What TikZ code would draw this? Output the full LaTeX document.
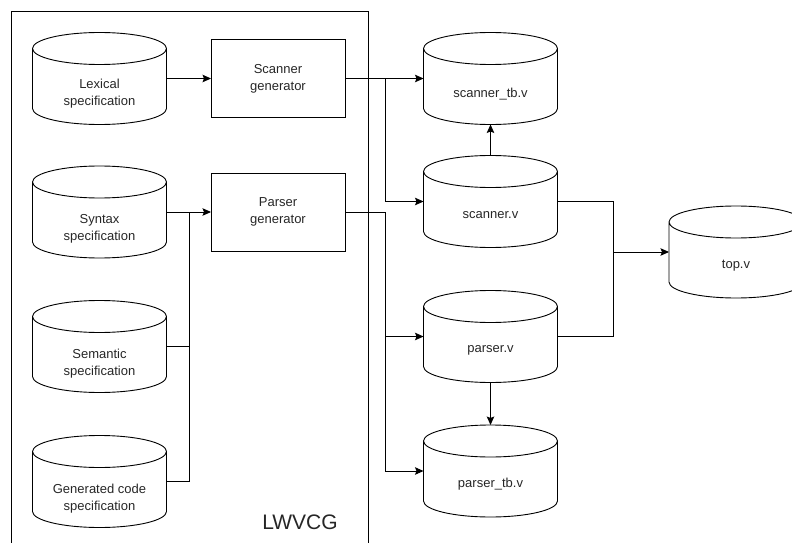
\documentclass[tikz,border=0pt]{standalone}
\usepackage{fontspec}
\setmainfont{Liberation Sans}
\usetikzlibrary{arrows.meta}

% outline of a storage cylinder drawn over a rectangular node
\newcommand\cylshape[1]{%
  \draw ([yshift=-16pt]#1.north west) -- ([yshift=16pt]#1.south west)
    arc[start angle=180,end angle=360,x radius=67pt,y radius=16pt]
    -- ([yshift=-16pt]#1.north east)
    arc[start angle=0,end angle=180,x radius=67pt,y radius=16pt] -- cycle
    ([yshift=-16pt]#1.north west)
    arc[start angle=180,end angle=360,x radius=67pt,y radius=16pt];}

\begin{document}
\begin{tikzpicture}[x=1pt,y=1pt,
  line width=0.9pt,
  arr/.style={-{Stealth[length=8.5pt,width=7.5pt,inset=1.5pt]}},
  lbl/.style={font=\fontsize{13}{17}\selectfont, align=center, text=black!85},
  store/.style={minimum width=134pt, minimum height=92pt, inner sep=0pt, outer sep=0pt},
  genbox/.style={draw, minimum width=134pt, minimum height=78pt, inner sep=0pt, outer sep=0pt, lbl},
]
\useasboundingbox (0,0) rectangle (792,542);
\clip (0,0) rectangle (792,542);

% container
\node[draw, anchor=north west, minimum width=357.5pt, minimum height=560pt, inner sep=0pt] (frame) at (10.5,530.5) {};
\node[font=\fontsize{21}{25}\selectfont, text=black!85] (frametitle) at (300,20) {LWVCG};

% stores
\node[store] (lex) at (99.5,463.5) {};
\node[store] (syn) at (99.5,330) {};
\node[store] (sem) at (99.5,195.5) {};
\node[store] (gcs) at (99.5,60.5) {};
\node[store] (stb) at (490.5,463.5) {};
\node[store] (scv) at (490.5,340.5) {};
\node[store] (pv)  at (490.5,205.5) {};
\node[store] (ptb) at (490.5,71) {};
\node[store] (top) at (736,290) {};
\foreach \n in {lex,syn,sem,gcs,stb,scv,pv,ptb,top} {\cylshape{\n}}

\node[lbl] (lex-t) at ([yshift=-15pt]lex.center) {Lexical\\specification};
\node[lbl] (syn-t) at ([yshift=-17pt]syn.center) {Syntax\\specification};
\node[lbl] (sem-t) at ([yshift=-17pt]sem.center) {Semantic\\specification};
\node[lbl] (gcs-t) at ([yshift=-17pt]gcs.center) {Generated code\\specification};
\node[lbl] (stb-t) at ([yshift=-16pt]stb.center) {scanner\_tb.v};
\node[lbl] (scv-t) at ([yshift=-14pt]scv.center) {scanner.v};
\node[lbl] (pv-t)  at ([yshift=-14pt]pv.center) {parser.v};
\node[lbl] (ptb-t) at ([yshift=-13pt]ptb.center) {parser\_tb.v};
\node[lbl] (top-t) at ([yshift=-14pt]top.center) {top.v};

% generators
\node[genbox] (sg) at (278,463.5) {Scanner\\generator};
\node[genbox] (pg) at (278,330) {Parser\\generator};

% junction points
\coordinate (j)  at (189,330);
\coordinate (b1) at (385,463.5);
\coordinate (b2) at (385,330);
\coordinate (m)  at (613,290);

% connectors
\draw[arr] (lex.east) -- (sg.west);
\draw[arr] (syn.east) -- (pg.west);
\draw (sem.east) -| (j);
\draw (gcs.east) -| (j);

\draw[arr] (sg.east) -- (b1) -- (stb.west);
\draw[arr] (b1) |- (scv.west);
\draw[arr] (pg.east) -- (b2) |- (pv.west);
\draw[arr] (b2) |- (ptb.west);

\draw[arr] (scv.north) -- (stb.south);
\draw[arr] (pv.south) -- (ptb.north);

\draw (scv.east) -| (m);
\draw (pv.east) -| (m);
\draw[arr] (m) -- (top.west);
\end{tikzpicture}
\end{document}
